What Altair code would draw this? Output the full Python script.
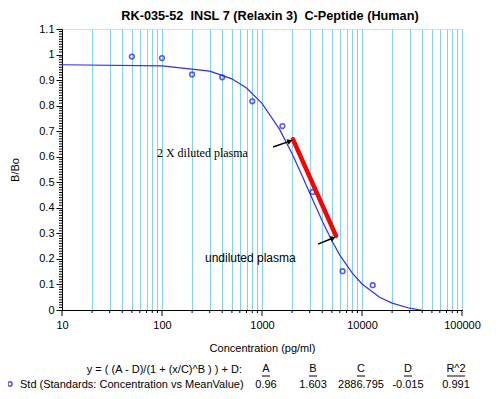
import altair as alt
import pandas as pd

# ---- data ----
std_x = [50, 100, 200, 400, 800, 1600, 3200, 6400, 12800]
std_y = [0.992, 0.986, 0.922, 0.911, 0.817, 0.72, 0.462, 0.152, 0.097]

# fitted 4PL curve (A=0.96, B=1.603, C=2886.795, D=-0.015), estimated points
curve_x = [10, 100, 300, 500, 700, 1000, 1500, 2000, 2500, 3000, 4000, 5000,
           6000, 8000, 10000, 15000, 20000, 30000, 40000, 50000, 65000]
curve_y = [0.960, 0.956, 0.935, 0.905, 0.869, 0.809, 0.707, 0.612, 0.528,
           0.458, 0.348, 0.271, 0.215, 0.144, 0.102, 0.050, 0.027, 0.007,
           -0.001, -0.005, -0.008]

red_x = [2040, 5500]
red_y = [0.668, 0.290]

arrow_id = ["a1", "a1", "a2", "a2"]
arrow_x = [1290, 1905, 3630, 5130]
arrow_y = [0.638, 0.661, 0.258, 0.282]
head_x = [1905, 5130]
head_y = [0.661, 0.282]
head_angle = [341, 335]

notes = ["2 X diluted plasma", "undiluted plasma"]
note_x = [89, 269]
note_y = [0.614, 0.204]

title = "RK-035-52\u00a0\u00a0INSL 7 (Relaxin 3)\u00a0\u00a0C-Peptide (Human)"
equation = "y = ( (A - D)/(1 + (x/C)^B ) ) + D:"
legend_label = "Std (Standards: Concentration vs MeanValue)"
param_names = ["A", "B", "C", "D", "R^2"]
param_values = ["0.96", "1.603", "2886.795", "-0.015", "0.991"]

x_major = [10, 100, 1000, 10000, 100000]
x_minor = [m * 10 ** e for e in range(1, 5) for m in range(2, 10)]
x_all = sorted(x_major + x_minor)
y_major = [round(i / 10, 1) for i in range(0, 12)]
y_minor = [round(i / 100, 2) for i in range(0, 111) if i % 10 != 0]

FONT = "Liberation Sans"
BLUE = "#1a1aee"

xscale = alt.Scale(type="log", domain=[10, 100000])
yscale = alt.Scale(domain=[0, 1.1])

xaxis = alt.Axis(
    values=x_all, tickCount=200,
    labelExpr="indexof([10,100,1000,10000,100000], datum.value) >= 0 ? format(datum.value, 'd') : ''",
    labelOverlap=False,
    grid=True, gridColor="#7fd3f0", gridWidth=1, gridOpacity=1,
    ticks=False, domainColor="black",
    labelFont=FONT, labelFontSize=11, labelColor="black", labelPadding=9,
    labelFlush=False,
    title="Concentration (pg/ml)", titleFont=FONT, titleFontSize=11,
    titleFontWeight="normal", titleColor="black", titlePadding=12,
)
yaxis = alt.Axis(
    values=y_major, tickCount=50, format="~g", labelOverlap=False,
    grid=False, tickSize=6,
    tickColor="black", domainColor="black",
    labelFont=FONT, labelFontSize=11, labelColor="black", labelPadding=2,
    labelFlush=False,
    title="B/Bo", titleFont=FONT, titleFontSize=11, titleFontWeight="normal",
    titleColor="black", titlePadding=18,
)

pts = pd.DataFrame({"x": std_x, "y": std_y})
crv = pd.DataFrame({"x": curve_x, "y": curve_y})
red = pd.DataFrame({"x": red_x, "y": red_y})
arr = pd.DataFrame({"id": arrow_id, "x": arrow_x, "y": arrow_y})
heads = pd.DataFrame({"x": head_x, "y": head_y, "a": head_angle})
nts = pd.DataFrame({"t": notes, "x": note_x, "y": note_y})

X = lambda f="x": alt.X(f"{f}:Q", scale=xscale)
Y = lambda f="y": alt.Y(f"{f}:Q", scale=yscale)

curve = alt.Chart(crv).mark_line(color="#3030f0", strokeWidth=1.2, clip=True).encode(
    x=alt.X("x:Q", scale=xscale, axis=xaxis), y=alt.Y("y:Q", scale=yscale, axis=yaxis))
points = alt.Chart(pts).mark_point(shape="circle", size=22, color=BLUE,
                                   strokeWidth=1.6, filled=False).encode(x=X(), y=Y())
redline = alt.Chart(red).mark_line(color="#ff0000", strokeWidth=4.5,
                                   strokeCap="round").encode(x=X(), y=Y())
shafts = alt.Chart(arr).mark_line(color="black", strokeWidth=1.5).encode(
    x=X(), y=Y(), detail="id:N")
arrowheads = alt.Chart(heads).mark_point(shape="triangle-right", filled=True,
                                         color="black", size=35, opacity=1).encode(
    x=X(), y=Y(), angle=alt.Angle("a:Q", scale=None))
note1 = alt.Chart(nts.iloc[[0]]).mark_text(align="left", baseline="middle",
                                           font="Liberation Serif", fontSize=12,
                                           color="black").encode(x=X(), y=Y(), text="t:N")
note2 = alt.Chart(nts.iloc[[1]]).mark_text(align="left", baseline="middle",
                                           font=FONT, fontSize=12,
                                           color="black").encode(x=X(), y=Y(), text="t:N")

# ---- tick marks ----
xmaj_t = alt.Chart(pd.DataFrame({"v": x_major})).mark_rule(color="black").encode(
    x=X("v"), y=alt.value(281), y2=alt.value(287))
xmin_t = alt.Chart(pd.DataFrame({"v": x_minor})).mark_rule(color="black").encode(
    x=X("v"), y=alt.value(281), y2=alt.value(284))
ymin_t = alt.Chart(pd.DataFrame({"v": y_minor})).mark_rule(color="black").encode(
    y=Y("v"), x=alt.value(-3), x2=alt.value(0))

# ---- footer (legend + fit parameters) ----
col_px = [204, 251, 299, 346, 394]
hdr = pd.DataFrame({"t": param_names, "px": col_px})
vals = pd.DataFrame({"t": param_values, "px": col_px})
ul_w = [8, 8, 8, 8, 18]
ul = pd.DataFrame({"px": [c - w / 2 for c, w in zip(col_px, ul_w)],
                   "px2": [c + w / 2 for c, w in zip(col_px, ul_w)]})

eq_text = alt.Chart(pd.DataFrame({"t": [equation]})).mark_text(
    align="right", baseline="middle", font=FONT, fontSize=11, color="black").encode(
    x=alt.value(180), y=alt.value(341), text="t:N")
hdr_text = alt.Chart(hdr).mark_text(align="center", baseline="middle", font=FONT,
                                    fontSize=11, color="black").encode(
    x=alt.X("px:Q", scale=None), y=alt.value(340), text="t:N")
hdr_ul = alt.Chart(ul).mark_rule(color="black", strokeWidth=1).encode(
    x=alt.X("px:Q", scale=None), x2="px2:Q", y=alt.value(347))
val_text = alt.Chart(vals).mark_text(align="center", baseline="middle", font=FONT,
                                     fontSize=11, color="black").encode(
    x=alt.X("px:Q", scale=None), y=alt.value(356), text="t:N")
leg_sym = alt.Chart(pd.DataFrame({"k": [1]})).mark_point(
    shape="circle", size=18, color=BLUE, strokeWidth=1.6, filled=False).encode(
    x=alt.value(-52), y=alt.value(355))
leg_text = alt.Chart(pd.DataFrame({"t": [legend_label]})).mark_text(
    align="left", baseline="middle", font=FONT, fontSize=11, color="black").encode(
    x=alt.value(-42), y=alt.value(356), text="t:N")

chart = alt.layer(
    curve, points, redline, shafts, arrowheads, note1, note2,
    xmaj_t, xmin_t, ymin_t,
    eq_text, hdr_text, hdr_ul, val_text, leg_sym, leg_text,
).properties(
    width=400, height=281,
    title=alt.TitleParams(title, font=FONT, fontSize=12.7, fontWeight="bold",
                          color="black", dx=8, offset=0),
    autosize=alt.AutoSizeParams(type="none"),
    padding={"left": 54, "top": 21, "right": 30, "bottom": 86},
).configure_view(stroke="#444444", strokeWidth=1).configure(background="white")

chart.save("out.html", embed_options={"renderer": "svg", "actions": False})
